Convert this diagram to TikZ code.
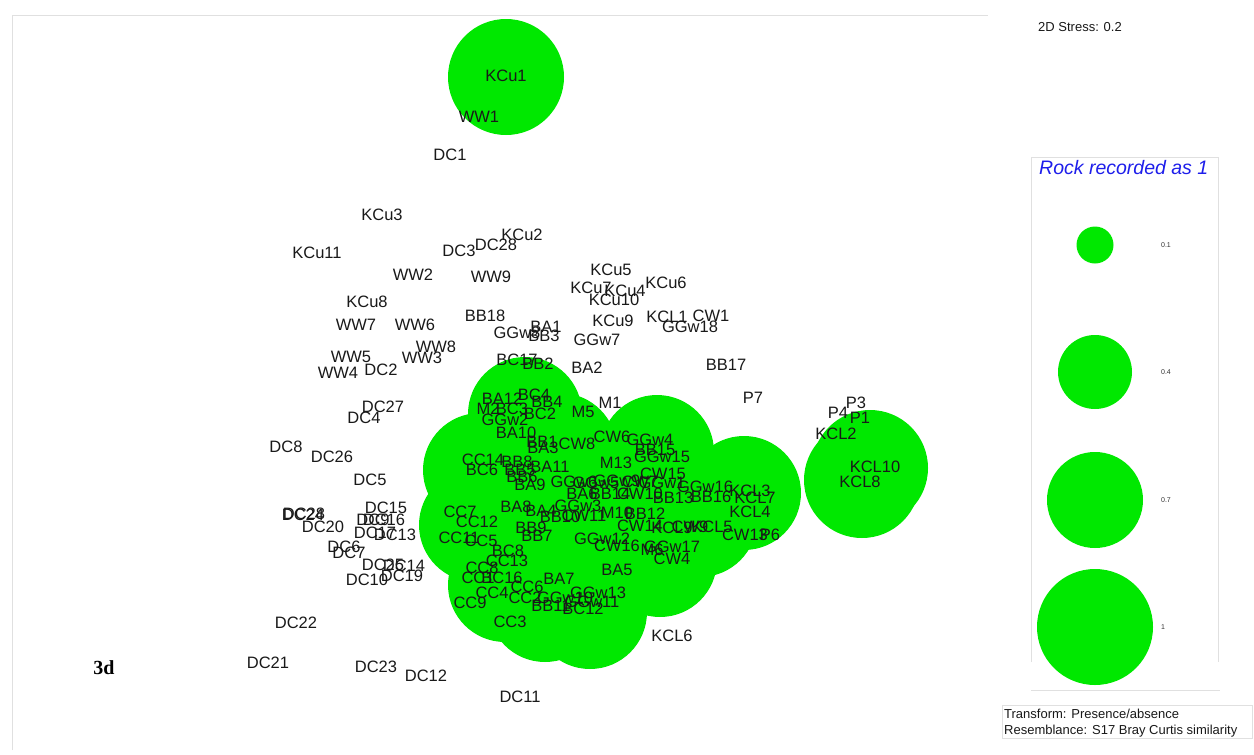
\documentclass[tikz,border=0pt]{standalone}
\usepackage{fontspec}
\setmainfont{Liberation Sans}
\newfontfamily\timesb{Liberation Serif}
\definecolor{bub}{RGB}{0,232,0}
\definecolor{legblue}{RGB}{30,30,235}
\tikzset{
  lab/.style={font=\fontsize{16.5}{18}\selectfont, inner sep=0pt, text=black!90},
  small/.style={font=\fontsize{7}{8}\selectfont, inner sep=0pt, text=black!80},
  info/.style={font=\fontsize{13}{15}\selectfont, inner sep=0pt, text=black!90, anchor=west},
  frameline/.style={draw=black!12, line width=0.8pt}
}
\begin{document}
\begin{tikzpicture}[x=1pt,y=-1pt]
\useasboundingbox (0,0) rectangle (1254,755);
\fill[white] (0,0) rectangle (1254,755);
% faint frame of the plot panel
\draw[frameline] (12,750) -- (12,15) -- (988,15);
% bubbles
\fill[bub] (506,77) circle (58pt);
\fill[bub] (870,468) circle (58pt);
\fill[bub] (862,480) circle (58pt);
\foreach \x/\y in {525/414, 480/470, 657/452, 744/493, 476/525, 505/585, 545/605,
  590/612, 660/560, 580/500, 600/550, 540/540, 520/470, 620/500, 560/450, 700/520}
  \fill[bub] (\x,\y) circle (57pt);
% sample labels
\foreach \t/\x/\y [count=\i] in {
 KCu1/506/76, WW1/479/117, DC1/450/155, KCu3/382/215, KCu2/522/235, DC28/496/245,
 DC3/459/251, KCu11/317/253, WW2/413/275, WW9/491/277, KCu5/611/270, KCu6/666/283,
 KCu7/591/288, KCu4/625/291, KCu10/614/300, KCu8/367/302, WW7/356/325, WW6/415/325,
 BB18/485/316, KCu9/613/321, KCL1/667/317, CW1/711/316, GGw18/690/327, BA1/546/327,
 GGw8/517/333, BB3/544/336, GGw7/597/340, WW8/436/347, WW5/351/357, WW3/422/358,
 WW4/338/373, DC2/381/370, BC17/517/360, BB2/538/364, BA2/587/368, BB17/726/365,
 P7/753/398, P3/856/403, P4/838/413, P1/860/418, KCL2/836/434, KCL10/875/467,
 KCL8/860/482, M1/610/403, M5/583/412,
 BC4/534/395, BA12/502/399, BB4/547/402, M2/488/409, BC3/512/409, BC2/540/414,
 GGw2/505/420, BA10/516/433, BB1/542/442, CW8/577/444, BA3/543/448, CC14/483/460,
 BB8/517/462, BC6/482/470, BA11/550/467, BB5/520/470, BB6/522/477, BA9/530/485,
 CW6/612/437, GGw4/650/440, BB15/655/450, GGw15/662/457, M13/616/463, CW15/663/474,
 GGw6/574/482, GGw5/596/483, GGw9/617/481, CW7/640/482, GGw1/662/483, GGw16/705/487,
 BA6/582/494, BB14/610/494, CW10/640/494, BB13/673/498, BB16/711/497, KCL3/750/491,
 KCL7/755/498, GGw3/578/506, BA8/516/507, BA4/541/511, BB10/560/517, CW11/584/516,
 M10/617/513, BB12/645/514, KCL4/750/512,
 CC7/460/512, CC12/477/522, BB9/531/528, BB7/537/536, CC11/459/538, CC5/481/541,
 CW14/640/526, KCL9/672/528, CW9/690/527, KCL5/712/527, CW13/745/535, P6/770/535,
 GGw12/602/539, CW16/617/546, M6/652/550, GGw17/672/547, CW4/672/559,
 BC8/508/551, CC13/507/561, CC8/482/568, CC1/478/578, BC16/502/578, BA7/559/579,
 CC6/527/587, CC4/492/593, CC9/470/603, CC2/525/598, GGw13/598/593, GGw10/565/598,
 BB11/551/606, BC12/583/609, GGw11/592/602, BA5/617/570, CC3/510/622, KCL6/672/636,
 DC27/383/407, DC4/364/418, DC8/286/447, DC26/332/457, DC5/370/480, DC15/386/508,
 DC24/303/515, DC28/304/514, DC20/323/527, DC9/373/520, DC16/384/520, DC17/375/533,
 DC13/395/535, DC6/344/547, DC7/349/553, DC25/383/565, DC14/404/566, DC10/367/580,
 DC19/402/576, DC22/296/623, DC21/268/663, DC23/376/667, DC12/426/676, DC11/520/697}
 \node[lab] (s\i) at (\x,\y) {\t};
% panel tag
\node[inner sep=0pt, font=\timesb\bfseries\fontsize{20}{22}\selectfont] (tag) at (104,668) {3d};
% stress
\node[info] (stress) at (1038,27) {2D Stress: 0.2};
% legend
\draw[frameline] (1031,662) -- (1031,157) -- (1218,157) -- (1218,662);
\draw[frameline] (1031,690) -- (1220,690);
\node[inner sep=0pt, anchor=west, text=legblue, font=\itshape\fontsize{19.5}{22}\selectfont] (legtitle) at (1039,168) {Rock recorded as 1};
\fill[bub] (1095,245) circle (18.5pt);
\fill[bub] (1095,372) circle (37pt);
\fill[bub] (1095,500) circle (48pt);
\fill[bub] (1095,627) circle (58pt);
\node[small] (l1) at (1166,245) {0.1};
\node[small] (l2) at (1166,372) {0.4};
\node[small] (l3) at (1166,500) {0.7};
\node[small] (l4) at (1163,627) {1};
% transform box
\draw[frameline] (1002,705) rectangle (1252,738);
\node[info] (tr1) at (1004,714) {Transform: Presence/absence};
\node[info] (tr2) at (1004,731) {Resemblance: S17 Bray Curtis similarity};
\end{tikzpicture}
\end{document}
